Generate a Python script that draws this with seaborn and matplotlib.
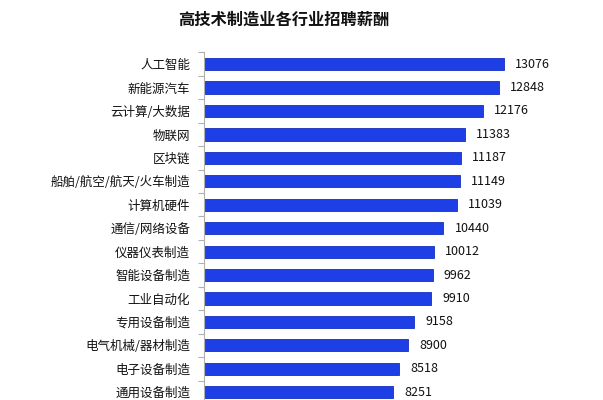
import matplotlib
matplotlib.use("Agg")
import matplotlib.pyplot as plt
import numpy as np
import pandas as pd
import seaborn as sns

categories = [
    "人工智能", "新能源汽车", "云计算/大数据", "物联网", "区块链",
    "船舶/航空/航天/火车制造", "计算机硬件", "通信/网络设备", "仪器仪表制造",
    "智能设备制造", "工业自动化", "专用设备制造", "电气机械/器材制造",
    "电子设备制造", "通用设备制造",
]
salaries = [13076, 12848, 12176, 11383, 11187, 11149, 11039, 10440, 10012,
            9962, 9910, 9158, 8900, 8518, 8251]
title = "高技术制造业各行业招聘薪酬"

BAR_COLOR = "#1E3FE6"
SPINE_COLOR = "#b0b0b0"

sns.set_theme(style="white")
plt.rcParams["font.family"] = ["Noto Sans CJK SC", "DejaVu Sans"]

df = pd.DataFrame({"industry": categories, "salary": salaries})

fig = plt.figure(figsize=(6.03, 4.0), dpi=100)
# axes extends slightly past the bottom edge, as in the cropped original
ax = fig.add_axes([204 / 603, -0.010, 367 / 603, 0.879])

sns.barplot(data=df, x="salary", y="industry", orient="h", color=BAR_COLOR,
            saturation=1, width=0.52, edgecolor="#1530c0", linewidth=0.6, ax=ax)
ax.bar_label(ax.containers[0], fmt="%d", padding=8, fontsize=9, color="#111111")

ax.set_xlim(0, 16000)
ax.set_ylim(len(categories) - 0.5, -0.5)
ax.set_xlabel("")
ax.set_ylabel("")
ax.set_xticks([])

for side in ["top", "right", "bottom"]:
    ax.spines[side].set_visible(False)
ax.spines["left"].set_color(SPINE_COLOR)
ax.spines["left"].set_linewidth(0.8)

ax.set_yticks(np.arange(len(categories)))
ax.set_yticklabels(categories, fontsize=9, color="#111111")
ax.set_yticks(np.arange(len(categories) + 1) - 0.5, minor=True)
ax.tick_params(axis="y", which="major", length=0, pad=10)
ax.tick_params(axis="y", which="minor", length=4, width=0.8, color=SPINE_COLOR, left=True)

fig.text(284 / 603, 1 - 20 / 400, title, ha="center", va="center",
         fontsize=11.7, fontweight="bold", color="#111111")

fig.savefig("out.png", dpi=100)
plt.close(fig)
